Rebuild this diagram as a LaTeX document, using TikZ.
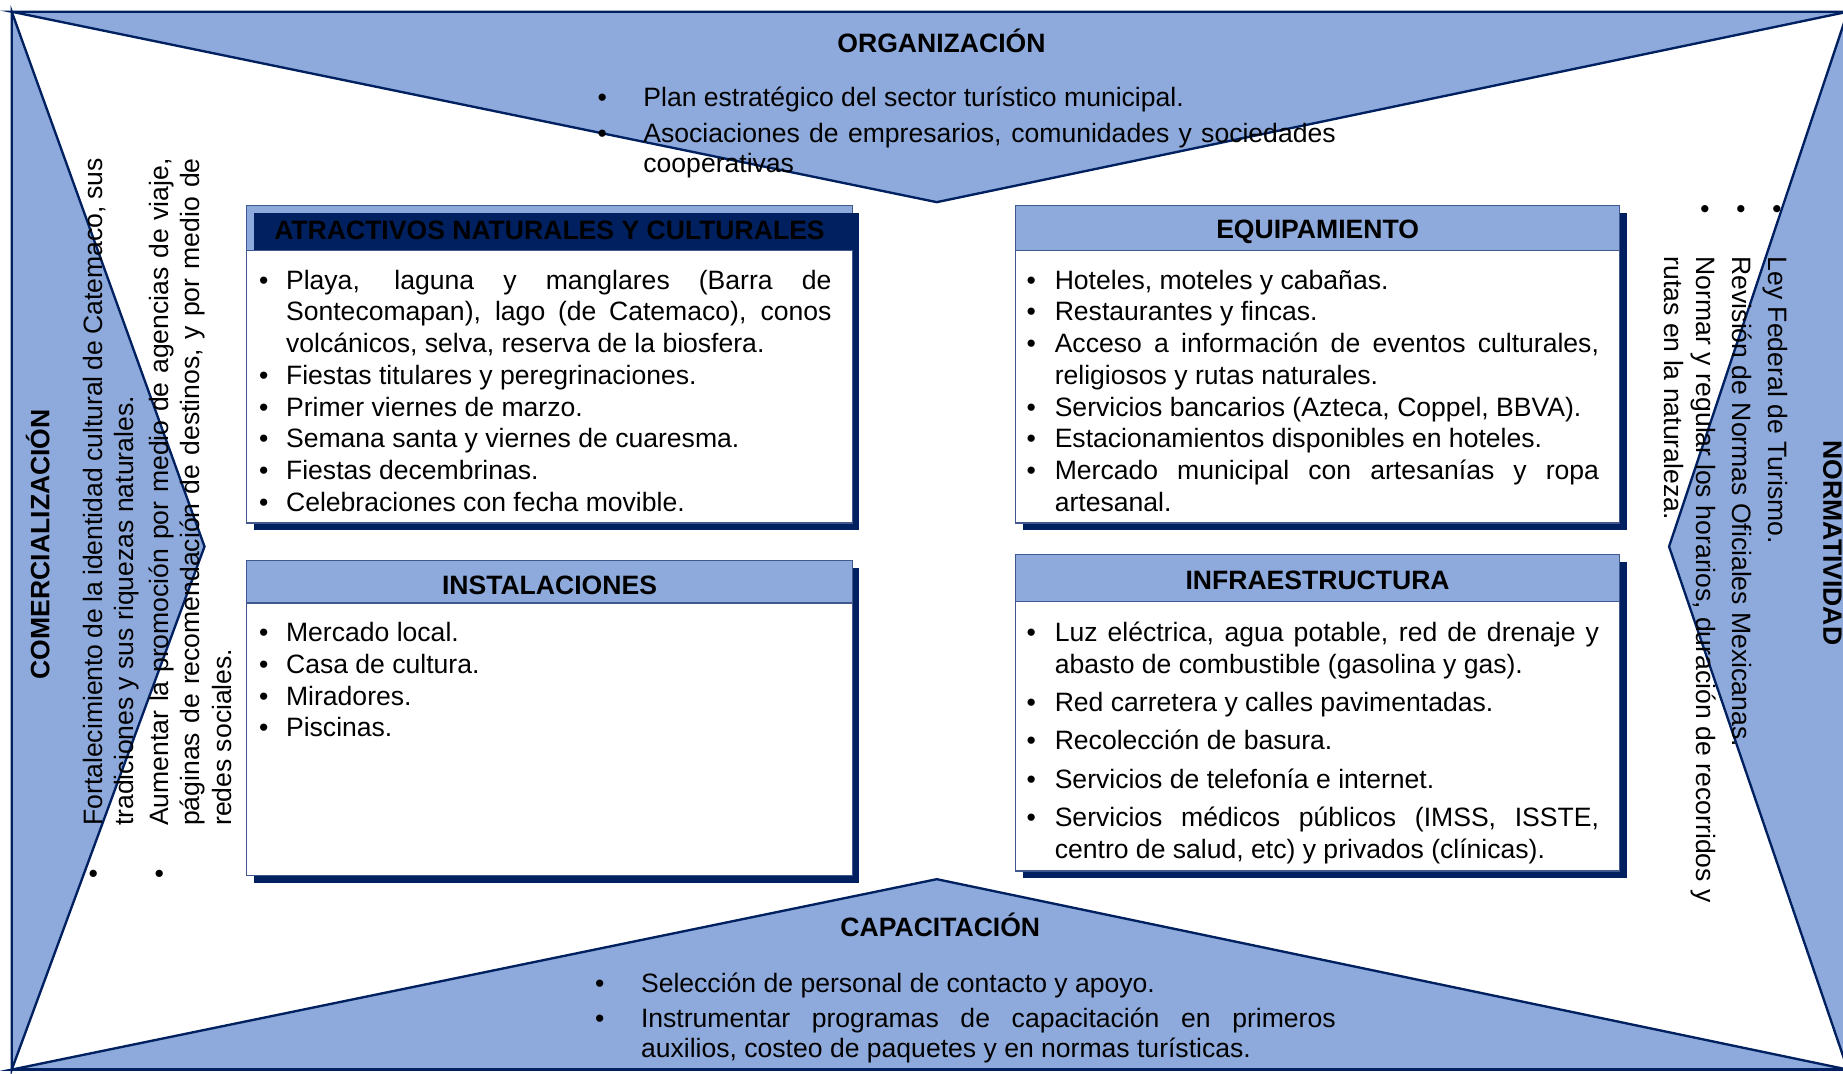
\documentclass[tikz,border=0pt]{standalone}
\usepackage{fontspec}
\setmainfont{Liberation Sans}
\usetikzlibrary{positioning,shadows}
\definecolor{orgnavy}{HTML}{002060}
\definecolor{orgblue}{HTML}{8EA9DB}
\definecolor{orgedge}{HTML}{41588F}
\hyphenpenalty=10000
\exhyphenpenalty=10000
\tolerance=3000
\newlength{\bulind}
\newcommand{\itm}[1]{\hangindent=\bulind\hangafter=1\noindent\makebox[\bulind][l]{\textbullet}#1\par}

\begin{document}
\begin{tikzpicture}[x=0.5pt,y=-0.5pt]
	\tikzset{
		tri/.style={fill=orgblue,draw=orgnavy,line width=1pt},
		frame/.style={draw=orgnavy,line width=1pt},
		boxshadow/.style={drop shadow={shadow xshift=3pt,shadow yshift=-3pt,fill=orgnavy,opacity=1}},
		boxhead/.style={boxshadow,draw=orgedge,fill=orgblue,line width=0.5pt,inner sep=0pt,outer sep=0pt,anchor=north west},
		boxbody/.style={boxshadow,draw=orgedge,fill=white,line width=0.5pt,inner sep=0pt,outer sep=0pt},
		listtext/.style={inner sep=0pt,align=justify,anchor=base west,font=\fontsize{11.3}{13.5}\selectfont},
		headtitle/.style={inner sep=0pt,font=\fontsize{11.3}{13.5}\selectfont\bfseries},
	}
	\useasboundingbox (0,0) rectangle (1568,913);

	% frame corners and the tips of the four wedges
	\coordinate (tl) at (10,10);
	\coordinate (tr) at (1572,10);
	\coordinate (br) at (1572,910);
	\coordinate (bl) at (10,910);
	\coordinate (topTip) at (797,172);
	\coordinate (botTip) at (797,748);
	\coordinate (leftTip) at (174,465);
	\coordinate (rightTip) at (1420,465);

	\filldraw[tri] (tl) -- (tr) -- (topTip) -- cycle;
	\filldraw[tri] (bl) -- (br) -- (botTip) -- cycle;
	\filldraw[tri] (tl) -- (bl) -- (leftTip) -- cycle;
	\filldraw[tri] (tr) -- (br) -- (rightTip) -- cycle;
	\draw[frame] (tl) rectangle (br);

	% the four boxes
	\node[boxhead,minimum width=257.5pt,minimum height=19pt] (atrHead) at (210,175) {};
	\node[boxbody,minimum width=257.5pt,minimum height=116pt,below=0pt of atrHead] (atrBody) {};
	\fill[orgnavy] ([xshift=3pt,yshift=-3pt]atrHead.north west) rectangle ([xshift=3pt]atrHead.south east);
	\node[headtitle] (atrTitle) at ([yshift=-1pt]atrHead.center) {ATRACTIVOS NATURALES Y CULTURALES};

	\node[boxhead,minimum width=257pt,minimum height=19pt] (equHead) at (864,175) {};
	\node[boxbody,minimum width=257pt,minimum height=116pt,below=0pt of equHead] (equBody) {};
	\node[headtitle] (equTitle) at ([yshift=-1.5pt]equHead.center) {EQUIPAMIENTO};

	\node[boxhead,minimum width=257.5pt,minimum height=18pt] (insHead) at (210,477) {};
	\node[boxbody,minimum width=257.5pt,minimum height=116pt,below=0pt of insHead] (insBody) {};
	\node[headtitle] (insTitle) at ([yshift=-1.5pt]insHead.center) {INSTALACIONES};

	\node[boxhead,minimum width=257pt,minimum height=20pt] (infHead) at (864,472) {};
	\node[boxbody,minimum width=257pt,minimum height=114.5pt,below=0pt of infHead] (infBody) {};
	\node[headtitle] (infTitle) at ([yshift=-1pt]infHead.center) {INFRAESTRUCTURA};

	% box contents
	\node[listtext,text width=243.5pt] (atrList) at (220,246) {\setlength{\bulind}{11.5pt}%
		\itm{Playa, laguna y manglares (Barra de Sontecomapan), lago (de Catemaco), conos volcánicos, selva, reserva de la biosfera.}
		\itm{Fiestas titulares y peregrinaciones.}
		\itm{Primer viernes de marzo.}
		\itm{Semana santa y viernes de cuaresma.}
		\itm{Fiestas decembrinas.}
		\itm{Celebraciones con fecha movible.}};
	\node[listtext,text width=243.5pt] (equList) at (873,246) {\setlength{\bulind}{12pt}%
		\itm{Hoteles, moteles y cabañas.}
		\itm{Restaurantes y fincas.}
		\itm{Acceso a información de eventos culturales, religiosos y rutas naturales.}
		\itm{Servicios bancarios (Azteca, Coppel, BBVA).}
		\itm{Estacionamientos disponibles en hoteles.}
		\itm{Mercado municipal con artesanías y ropa artesanal.}};
	\node[listtext,text width=243.5pt] (insList) at (220,546) {\setlength{\bulind}{11.5pt}%
		\itm{Mercado local.}
		\itm{Casa de cultura.}
		\itm{Miradores.}
		\itm{Piscinas.}};
	\node[listtext,text width=243.5pt] (infList) at (873,546) {\setlength{\bulind}{12pt}\setlength{\parskip}{2.75pt}%
		\itm{Luz eléctrica, agua potable, red de drenaje y abasto de combustible (gasolina y gas).}
		\itm{Red carretera y calles pavimentadas.}
		\itm{Recolección de basura.}
		\itm{Servicios de telefonía e internet.}
		\itm{Servicios médicos públicos (IMSS, ISSTE, centro de salud, etc) y privados (clínicas).}};

	% wedge titles and lists
	\node[headtitle] (orgTitle) at (801,35) {ORGANIZACIÓN};
	\node[listtext,text width=314pt,font=\fontsize{11.3}{13}\selectfont] (orgList) at (508,91) {\setlength{\bulind}{19.5pt}\setlength{\parskip}{2pt}%
		\itm{Plan estratégico del sector turístico municipal.}
		\itm{Asociaciones de empresarios, comunidades y sociedades cooperativas}};

	\node[headtitle] (capTitle) at (800,787) {CAPACITACIÓN};
	\node[listtext,text width=315pt,font=\fontsize{11.3}{13}\selectfont] (capList) at (506,844) {\setlength{\bulind}{19.5pt}\setlength{\parskip}{2pt}%
		\itm{Selección de personal de contacto y apoyo.}
		\itm{Instrumentar programas de capacitación en primeros auxilios, costeo de paquetes y en normas turísticas.}};

	\node[headtitle,rotate=90] (comTitle) at (32,463) {COMERCIALIZACIÓN};
	\node[listtext,text width=306.5pt,rotate=90] (comList) at (87,748) {\setlength{\bulind}{22.5pt}\setlength{\parskip}{1pt}%
		\itm{Fortalecimiento de la identidad cultural de Catemaco, sus tradiciones y sus riquezas naturales.}
		\itm{Aumentar la promoción por medio de agencias de viaje, páginas de recomendación de destinos, y por medio de\linebreak redes sociales.}};

	\node[headtitle,rotate=-90] (norTitle) at (1559,462) {NORMATIVIDAD};
	\node[listtext,text width=297pt,rotate=-90] (norList) at (1505,174) {\setlength{\bulind}{22pt}\setlength{\parskip}{2pt}%
		\itm{Ley Federal de Turismo.}
		\itm{Revisión de Normas Oficiales Mexicanas.}
		\itm{Normar y regular los horarios, duración de recorridos y rutas en la naturaleza.}};
\end{tikzpicture}
\end{document}
